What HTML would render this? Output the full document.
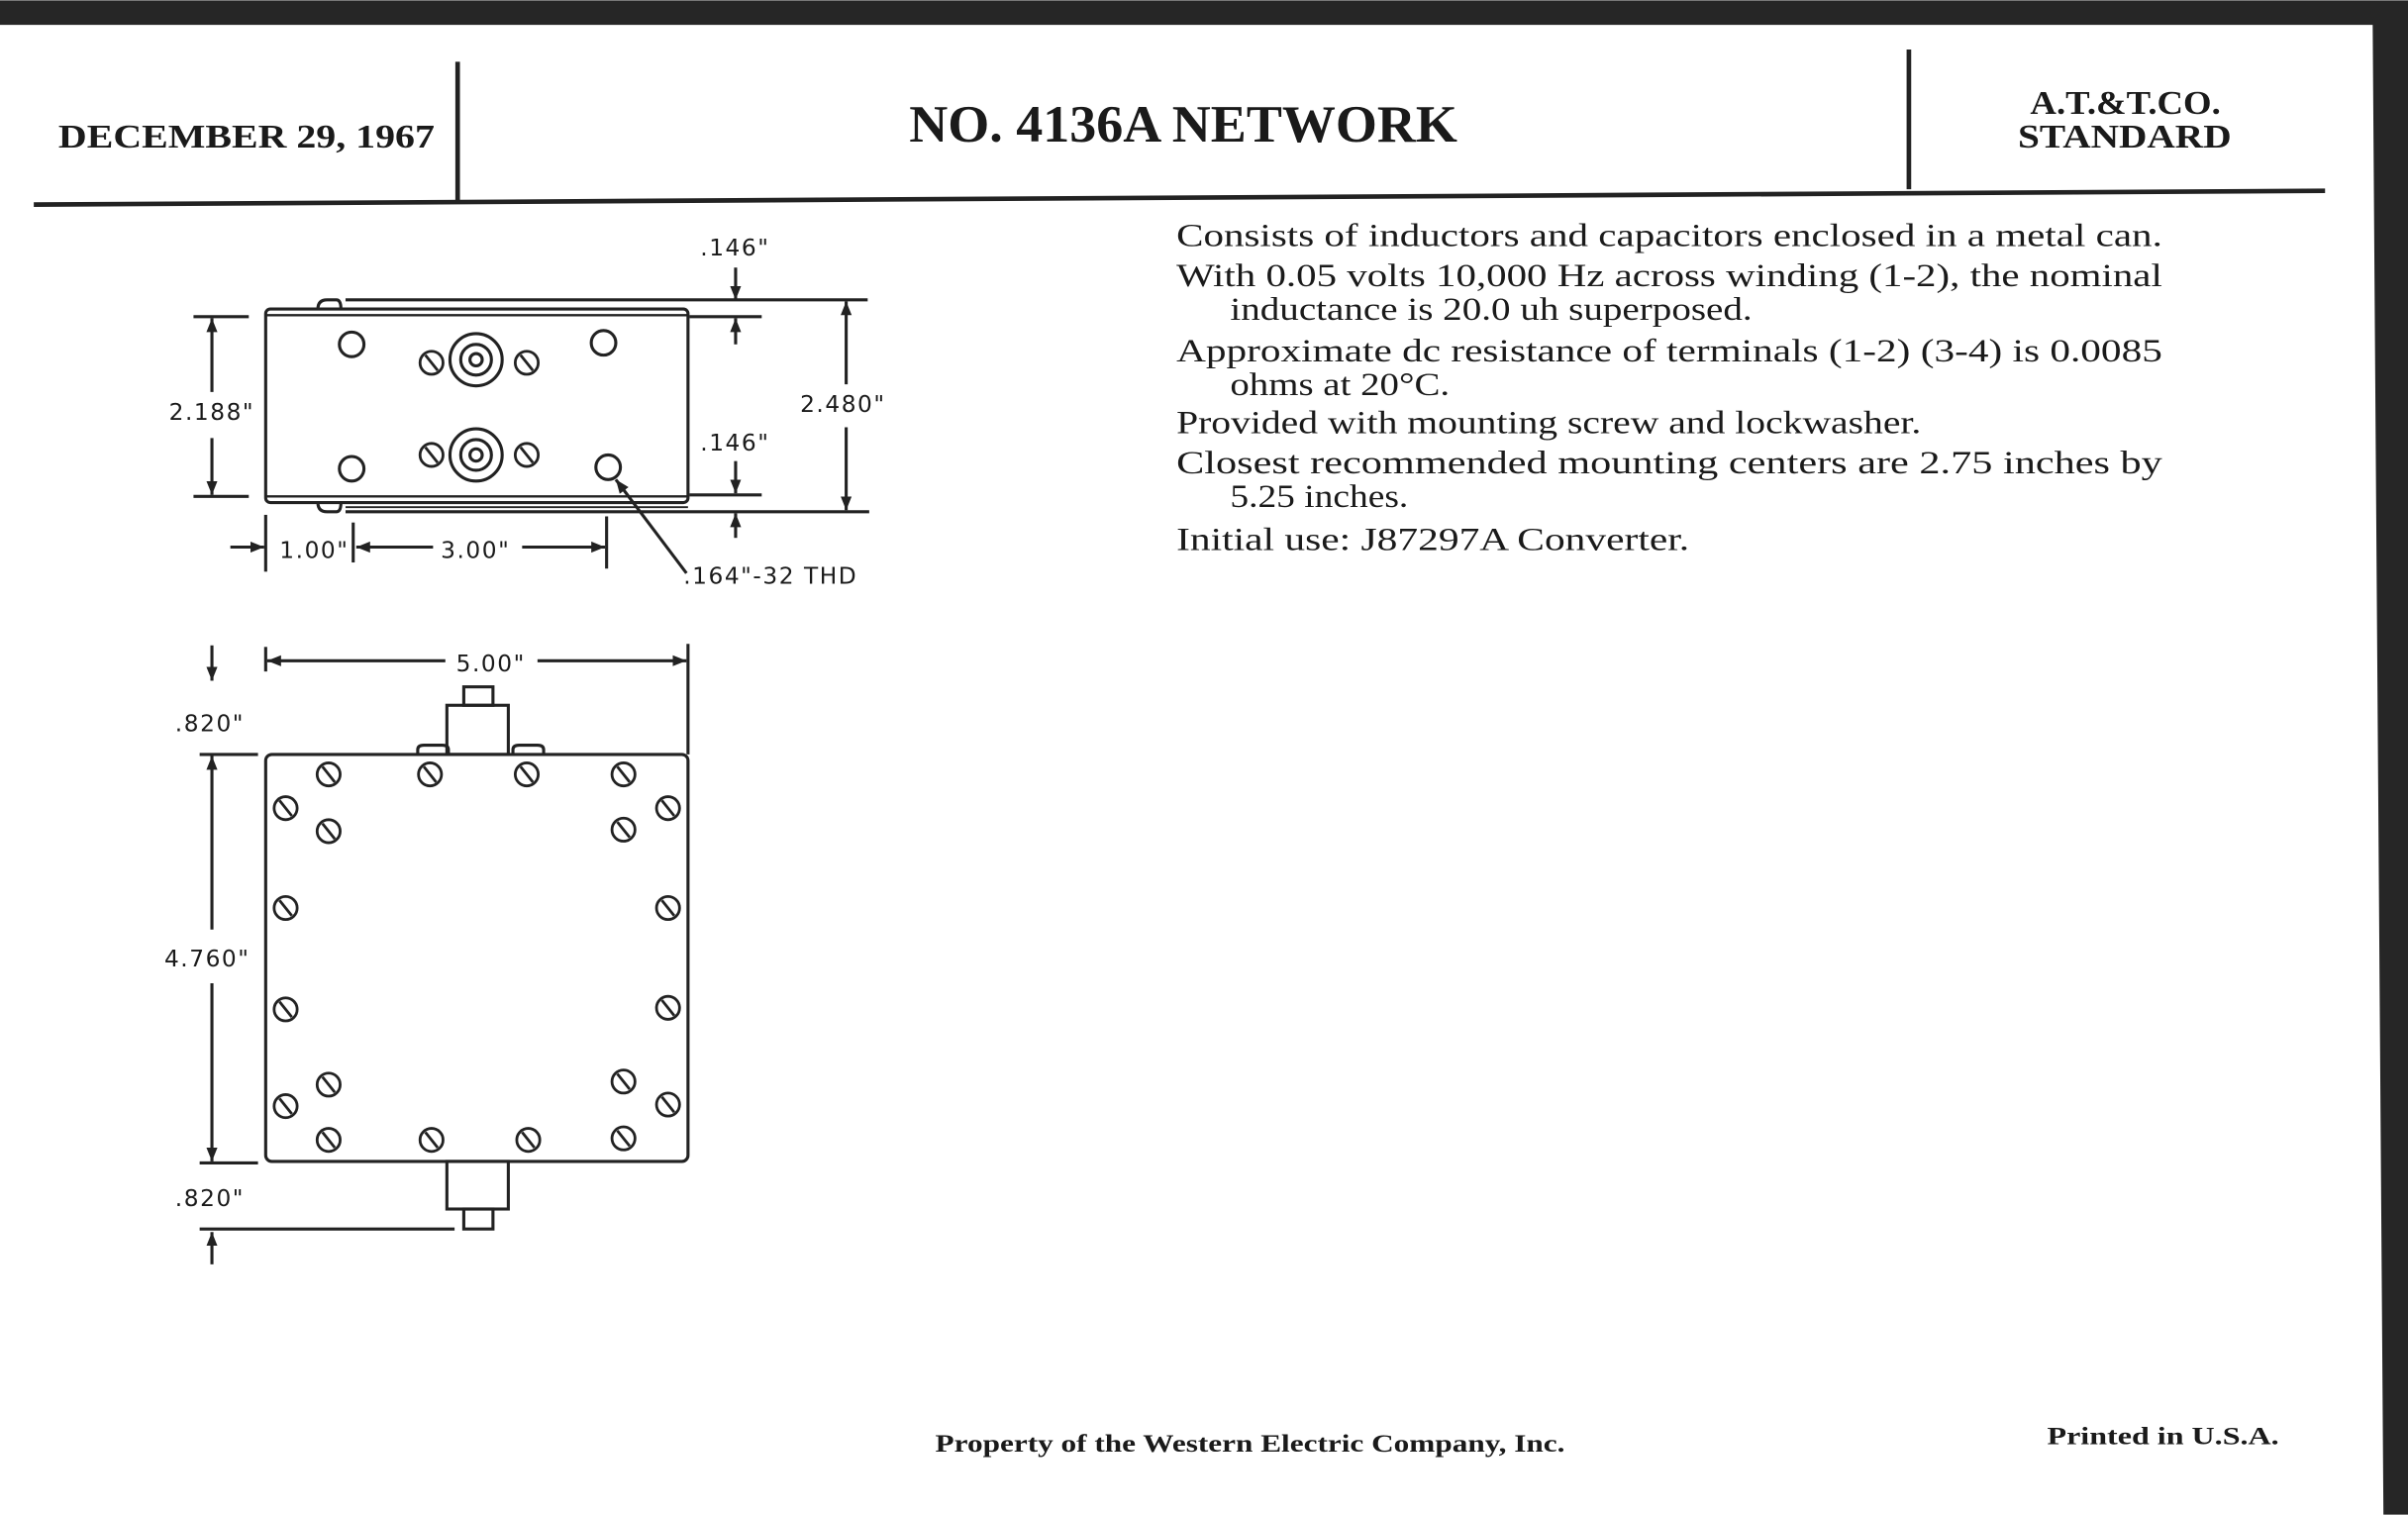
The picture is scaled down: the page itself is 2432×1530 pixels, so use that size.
<!DOCTYPE html>
<html><head><style>
html,body{margin:0;padding:0;background:#fff;}
svg{display:block;}
text{fill:#1a1a1a;}
.s{font-family:"Liberation Serif",serif;}
.d{font-family:"DejaVu Sans","Liberation Sans",sans-serif;font-size:15px;letter-spacing:1px;}
</style></head><body>
<svg width="2432" height="1530" viewBox="0 0 1568 986" xmlns="http://www.w3.org/2000/svg">
<defs>
<marker id="a" viewBox="0 0 10 10" refX="10" refY="5" markerWidth="9" markerHeight="9" markerUnits="userSpaceOnUse" orient="auto-start-reverse"><path d="M0,1 L10,5 L0,9 z" fill="#222"/></marker>
<g id="sc"><circle r="7.5" fill="#fff" stroke="#222" stroke-width="1.8"/><line x1="-4" y1="-5" x2="4" y2="5" stroke="#222" stroke-width="1.8"/></g>
</defs>
<rect width="1568" height="986" fill="#fff"/>
<polygon points="0,0 1568,0 1568,986 1552,986 1545,16 0,16" fill="#262626"/>
<!-- header -->
<text x="38" y="96" class="s" font-size="22" font-weight="bold" textLength="245" lengthAdjust="spacingAndGlyphs">DECEMBER 29, 1967</text>
<line x1="298" y1="40" x2="298" y2="131" stroke="#222" stroke-width="3"/>
<text x="592" y="92" class="s" font-size="34" font-weight="bold" textLength="357" lengthAdjust="spacingAndGlyphs">NO. 4136A NETWORK</text>
<line x1="1243" y1="32" x2="1243" y2="123" stroke="#222" stroke-width="3"/>
<text x="1322" y="74" class="s" font-size="22" font-weight="bold" textLength="124" lengthAdjust="spacingAndGlyphs">A.T.&amp;T.CO.</text>
<text x="1314" y="96" class="s" font-size="22" font-weight="bold" textLength="139" lengthAdjust="spacingAndGlyphs">STANDARD</text>
<line x1="22" y1="133" x2="1514" y2="124" stroke="#222" stroke-width="3"/>
<!-- description -->
<g class="s" font-size="21">
<text x="766" y="160" textLength="642" lengthAdjust="spacingAndGlyphs">Consists of inductors and capacitors enclosed in a metal can.</text>
<text x="766" y="186" textLength="642" lengthAdjust="spacingAndGlyphs">With 0.05 volts 10,000 Hz across winding (1-2), the nominal</text>
<text x="801" y="208" textLength="340" lengthAdjust="spacingAndGlyphs">inductance is 20.0 uh superposed.</text>
<text x="766" y="235" textLength="642" lengthAdjust="spacingAndGlyphs">Approximate dc resistance of terminals (1-2) (3-4) is 0.0085</text>
<text x="801" y="257" textLength="143" lengthAdjust="spacingAndGlyphs">ohms at 20°C.</text>
<text x="766" y="282" textLength="485" lengthAdjust="spacingAndGlyphs">Provided with mounting screw and lockwasher.</text>
<text x="766" y="308" textLength="642" lengthAdjust="spacingAndGlyphs">Closest recommended mounting centers are 2.75 inches by</text>
<text x="801" y="330" textLength="116" lengthAdjust="spacingAndGlyphs">5.25 inches.</text>
<text x="766" y="358" textLength="334" lengthAdjust="spacingAndGlyphs">Initial use:  J87297A Converter.</text>
</g>
<!-- top view drawing -->
<g stroke="#222" stroke-width="2" fill="none">
<rect x="173" y="201" width="275" height="126" rx="3"/>
<line x1="173" y1="205" x2="448" y2="205" stroke-width="1.5"/>
<line x1="173" y1="323" x2="448" y2="323" stroke-width="1.5"/>
<line x1="225" y1="195" x2="565" y2="195"/>
<line x1="225" y1="333" x2="566" y2="333"/>
<line x1="225" y1="330" x2="448" y2="330" stroke-width="1.2"/>
<path d="M207,201 q0,-6 6,-6 h6 q3,0 3,6"/>
<path d="M207,327 q0,6 6,6 h6 q3,0 3,-6"/>
<circle cx="229" cy="224" r="8"/><circle cx="393" cy="223" r="8"/>
<circle cx="229" cy="305" r="8"/><circle cx="396" cy="304" r="8"/>
<circle cx="310" cy="234" r="17"/><circle cx="310" cy="234" r="10"/><circle cx="310" cy="234" r="4"/>
<circle cx="310" cy="296" r="17"/><circle cx="310" cy="296" r="10"/><circle cx="310" cy="296" r="4"/>
<line x1="126" y1="206" x2="162" y2="206"/><line x1="126" y1="323" x2="162" y2="323"/>
<line x1="138" y1="255" x2="138" y2="207" marker-end="url(#a)"/>
<line x1="138" y1="285" x2="138" y2="322" marker-end="url(#a)"/>
<line x1="449" y1="206" x2="496" y2="206"/>
<line x1="449" y1="322" x2="496" y2="322"/>
<line x1="551" y1="250" x2="551" y2="196" marker-end="url(#a)"/>
<line x1="551" y1="278" x2="551" y2="332" marker-end="url(#a)"/>
<line x1="479" y1="174" x2="479" y2="195" marker-end="url(#a)"/>
<line x1="479" y1="224" x2="479" y2="207" marker-end="url(#a)"/>
<line x1="479" y1="300" x2="479" y2="321" marker-end="url(#a)"/>
<line x1="479" y1="350" x2="479" y2="334" marker-end="url(#a)"/>
<line x1="173" y1="335" x2="173" y2="372"/>
<line x1="230" y1="340" x2="230" y2="366"/>
<line x1="395" y1="336" x2="395" y2="370"/>
<line x1="150" y1="356" x2="172" y2="356" marker-end="url(#a)"/>
<line x1="282" y1="356" x2="232" y2="356" marker-end="url(#a)"/>
<line x1="340" y1="356" x2="394" y2="356" marker-end="url(#a)"/>
<line x1="447" y1="373" x2="401" y2="312" marker-end="url(#a)"/>
</g>
<g><use href="#sc" x="281" y="236"/><use href="#sc" x="343" y="236"/><use href="#sc" x="281" y="296"/><use href="#sc" x="343" y="296"/></g>
<g class="d">
<text x="456" y="166">.146"</text>
<text x="110" y="273">2.188"</text>
<text x="521" y="268">2.480"</text>
<text x="456" y="293">.146"</text>
<text x="182" y="363">1.00"</text>
<text x="287" y="363">3.00"</text>
<text x="445" y="380">.164"-32 THD</text>
</g>
<!-- bottom view drawing -->
<g stroke="#222" stroke-width="2" fill="none">
<rect x="173" y="491" width="275" height="265" rx="4"/>
<rect x="291" y="459" width="40" height="32"/>
<rect x="302" y="447" width="19" height="12"/>
<rect x="291" y="756" width="40" height="31"/>
<rect x="302" y="787" width="19" height="13"/>
<path d="M272,491 v-3 q0,-3 4,-3 h12 q4,0 4,3 v3"/>
<path d="M334,491 v-3 q0,-3 4,-3 h12 q4,0 4,3 v3"/>
<line x1="173" y1="421" x2="173" y2="437"/>
<line x1="448" y1="419" x2="448" y2="491"/>
<line x1="290" y1="430" x2="174" y2="430" marker-end="url(#a)"/>
<line x1="350" y1="430" x2="447" y2="430" marker-end="url(#a)"/>
<line x1="138" y1="420" x2="138" y2="443" marker-end="url(#a)"/>
<line x1="130" y1="491" x2="168" y2="491"/>
<line x1="130" y1="757" x2="168" y2="757"/>
<line x1="138" y1="605" x2="138" y2="492" marker-end="url(#a)"/>
<line x1="138" y1="640" x2="138" y2="756" marker-end="url(#a)"/>
<line x1="130" y1="800" x2="296" y2="800"/>
<line x1="138" y1="823" x2="138" y2="802" marker-end="url(#a)"/>
</g>
<g>
<use href="#sc" x="214" y="504"/><use href="#sc" x="280" y="504"/><use href="#sc" x="343" y="504"/><use href="#sc" x="406" y="504"/>
<use href="#sc" x="186" y="526"/><use href="#sc" x="214" y="541"/><use href="#sc" x="406" y="540"/><use href="#sc" x="435" y="526"/>
<use href="#sc" x="186" y="591"/><use href="#sc" x="435" y="591"/><use href="#sc" x="186" y="657"/><use href="#sc" x="435" y="656"/>
<use href="#sc" x="186" y="720"/><use href="#sc" x="214" y="706"/><use href="#sc" x="406" y="704"/><use href="#sc" x="435" y="719"/>
<use href="#sc" x="214" y="742"/><use href="#sc" x="281" y="742"/><use href="#sc" x="344" y="742"/><use href="#sc" x="406" y="741"/>
</g>
<g class="d">
<text x="297" y="437">5.00"</text>
<text x="114" y="476">.820"</text>
<text x="107" y="629">4.760"</text>
<text x="114" y="785">.820"</text>
</g>
<!-- footer -->
<text x="609" y="945" class="s" font-size="16" font-weight="bold" textLength="410" lengthAdjust="spacingAndGlyphs">Property of the Western Electric Company, Inc.</text>
<text x="1333" y="940" class="s" font-size="16" font-weight="bold" textLength="151" lengthAdjust="spacingAndGlyphs">Printed in U.S.A.</text>
</svg>
</body></html>
